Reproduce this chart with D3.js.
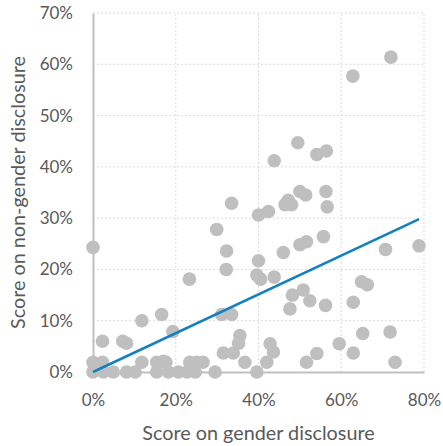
<!DOCTYPE html>
<html>
<head>
<meta charset="utf-8">
<script src="https://cdn.jsdelivr.net/npm/d3@7/dist/d3.min.js"></script>
<style>
  body { margin: 0; background: #fff; }
  text { font-family: Lato, "Open Sans", sans-serif; fill: #595959; }
</style>
</head>
<body>
<div id="chart"></div>
<script>
// scores, in percent
var genderScore = [
  72, 62.8, 49.5, 54.1, 56.4, 43.8, 50.0, 51.4, 56.3, 47.2,
  56.6, 40.0, 42.4, 46.4, 48.0, 55.7, 51.6, 50.0, 46.0, 70.7,
  78.8, 40.0, 39.6, 40.5, 43.8, 64.9, 66.3, 48.2, 50.8, 52.4,
  47.6, 56.2, 62.9, 42.8, 43.6, 42.0, 39.6, 36.7, 51.6, 54.1,
  59.5, 62.9, 65.2, 71.8, 73.0, 0, 33.5, 29.9, 32.3, 32.2,
  23.3, 31.1, 33.5, 16.6, 11.8, 19.3, 2.3, 7.2, 8.1, 35.5,
  35.2, 31.5, 33.9,
  0, 2.3, 11.8, 15.4, 17.0, 17.6, 23.4, 25.0, 26.6,
  0, 2.5, 4.9, 8.1, 10.2, 15.4, 18.2, 20.6, 22.7, 24.7, 29.5
];
var nonGenderScore = [
  61.4, 57.7, 44.7, 42.4, 43.1, 41.2, 35.2, 34.5, 35.2, 33.5,
  32.2, 30.6, 31.3, 32.6, 32.6, 26.4, 25.4, 24.8, 23.3, 23.9,
  24.6, 21.7, 18.9, 18.1, 18.5, 17.6, 17.0, 15.0, 16.0, 13.9,
  12.3, 13.0, 13.6, 5.5, 3.9, 1.9, 0.0, 1.9, 1.9, 3.6,
  5.5, 3.7, 7.5, 7.8, 1.9, 24.3, 32.9, 27.8, 23.6, 20.0,
  18.1, 11.2, 11.2, 11.2, 10.0, 7.9, 6.0, 6.0, 5.6, 7.1,
  5.6, 3.7, 3.7,
  1.9, 1.9, 1.9, 1.9, 2.1, 1.9, 1.9, 1.9, 1.9,
  0, 0, 0, 0, 0, 0, 0, 0, 0, 0, 0
];
var xTicks = [0, 20, 40, 60, 80];
var yTicks = [0, 10, 20, 30, 40, 50, 60, 70];
// linear trendline: [intercept, slope], drawn over the x range of the data
var trend = [0.0, 0.378];

var width = 443, height = 446;
var margin = { top: 13, right: 19, bottom: 74, left: 93 };

var svg = d3.select('#chart').append('svg')
  .attr('width', width)
  .attr('height', height);

var x = d3.scaleLinear().domain([0, 80]).range([margin.left, width - margin.right]);
var y = d3.scaleLinear().domain([0, 70]).range([height - margin.bottom, margin.top]);

// gridlines
svg.append('g').selectAll('line').data(yTicks.slice(1)).enter().append('line')
  .attr('x1', x(0)).attr('x2', x(80))
  .attr('y1', function(d) { return y(d); }).attr('y2', function(d) { return y(d); })
  .attr('stroke', '#dcdcdc').attr('stroke-dasharray', '2,2');
svg.append('g').selectAll('line').data(xTicks.slice(1)).enter().append('line')
  .attr('y1', y(0)).attr('y2', y(70))
  .attr('x1', function(d) { return x(d); }).attr('x2', function(d) { return x(d); })
  .attr('stroke', '#dcdcdc').attr('stroke-dasharray', '2,2');

// axes
var xAxis = svg.append('g')
  .attr('transform', 'translate(0,' + y(0) + ')')
  .call(d3.axisBottom(x).tickValues(xTicks).tickSize(0).tickPadding(22)
    .tickFormat(function(d) { return d + '%'; }));
var yAxis = svg.append('g')
  .attr('transform', 'translate(' + x(0) + ',0)')
  .call(d3.axisLeft(y).tickValues(yTicks).tickSize(0).tickPadding(20)
    .tickFormat(function(d) { return d + '%'; }));
[xAxis, yAxis].forEach(function(a) {
  a.select('.domain').attr('stroke', '#bfbfbf').attr('stroke-width', 2);
  a.selectAll('text').style('font-size', '17px').attr('fill', '#595959')
    .style('font-family', 'Lato, "Open Sans", sans-serif');
});

// points
svg.append('g').selectAll('circle').data(genderScore).enter().append('circle')
  .attr('cx', function(d) { return x(d); })
  .attr('cy', function(d, i) { return y(nonGenderScore[i]); })
  .attr('r', 6.8)
  .attr('fill', '#bfbfbf');

// trendline
var xr = d3.extent(genderScore);
svg.append('line')
  .attr('x1', x(xr[0])).attr('y1', y(trend[0] + trend[1] * xr[0]))
  .attr('x2', x(xr[1])).attr('y2', y(trend[0] + trend[1] * xr[1]))
  .attr('stroke', '#1380c0').attr('stroke-width', 2.5);

// titles
svg.append('text')
  .attr('x', (x(0) + x(80)) / 2).attr('y', 440)
  .attr('text-anchor', 'middle').style('font-size', '19.8px')
  .text('Score on gender disclosure');
svg.append('text')
  .attr('transform', 'translate(25,' + ((y(0) + y(70)) / 2) + ') rotate(-90)')
  .attr('text-anchor', 'middle').style('font-size', '19.8px')
  .text('Score on non-gender disclosure');
</script>
</body>
</html>
